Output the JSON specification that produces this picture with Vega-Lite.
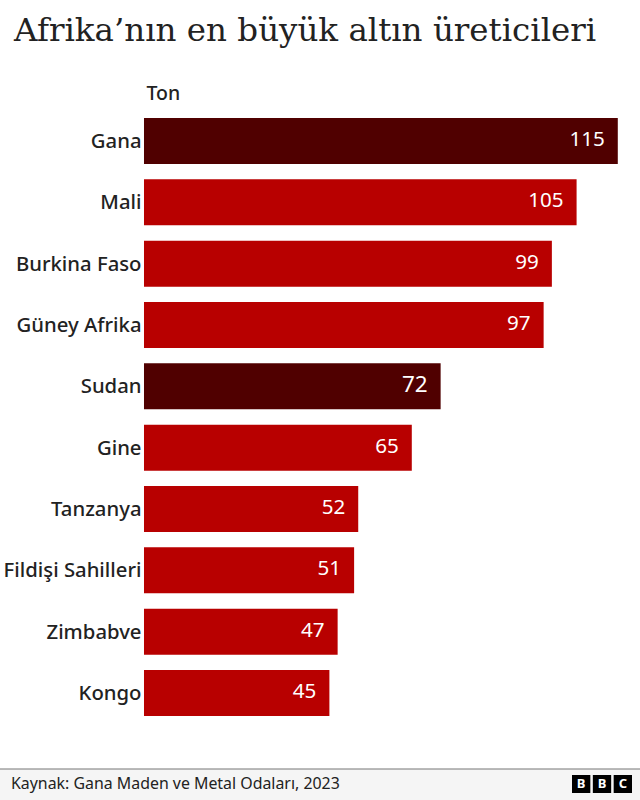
{
"$schema":"https://vega.github.io/schema/vega-lite/v6.json",
"width":640,"height":800,"padding":0,"autosize":"none","background":"white",
"config":{"view":{"stroke":null}},
"title":{"text":"Afrika’nın en büyük altın üreticileri","anchor":"start","frame":"group","dx":14,"dy":73,"offset":0,"baseline":"alphabetic","font":"DejaVu Serif","fontSize":32.5,"fontWeight":"normal","color":"#222222"},
"layer":[
{"data":{"values":[
{"ulke":"Gana","ton":115,"vurgu":"evet"},
{"ulke":"Mali","ton":105,"vurgu":"hayir"},
{"ulke":"Burkina Faso","ton":99,"vurgu":"hayir"},
{"ulke":"Güney Afrika","ton":97,"vurgu":"hayir"},
{"ulke":"Sudan","ton":72,"vurgu":"evet"},
{"ulke":"Gine","ton":65,"vurgu":"hayir"},
{"ulke":"Tanzanya","ton":52,"vurgu":"hayir"},
{"ulke":"Fildişi Sahilleri","ton":51,"vurgu":"hayir"},
{"ulke":"Zimbabve","ton":47,"vurgu":"hayir"},
{"ulke":"Kongo","ton":45,"vurgu":"hayir"}]},
"encoding":{
"y":{"field":"ulke","type":"nominal","sort":null,"scale":{"range":[118,716],"paddingInner":0.25,"paddingOuter":0},
"axis":{"title":null,"orient":"left","offset":-141,"domain":false,"ticks":false,"labelPadding":0,"labelOffset":1,"labelFont":"Noto Sans","labelFontSize":20.3,"labelFontWeight":500,"labelColor":"#222222","labelLimit":200}},
"x":{"field":"ton","type":"quantitative","scale":{"domain":[-34.95,120.39],"range":[0,640],"nice":false,"zero":false},
"axis":{"orient":"top","title":"Ton","domain":false,"ticks":false,"labels":false,"grid":false,"titleX":146,"titleY":93,"titleAlign":"left","titleBaseline":"middle","titleFont":"Noto Sans","titleFontSize":19.5,"titleFontWeight":500,"titleColor":"#222222"}}
},
"layer":[
{"mark":{"type":"bar"},"encoding":{"color":{"field":"vurgu","type":"nominal","scale":{"domain":["evet","hayir"],"range":["#500000","#b80000"]},"legend":null}}},
{"mark":{"type":"text","align":"right","baseline":"middle","dx":-13,"dy":-1,"font":"Noto Sans","fontWeight":400,"color":"white"},"encoding":{"text":{"field":"ton","type":"quantitative"},"size":{"condition":{"test":"datum.ton === 72","value":22.5},"value":20.6}}}
]},
{"data":{"values":[{"kaynak":"Kaynak: Gana Maden ve Metal Odaları, 2023"}]},
"layer":[
{"mark":{"type":"rect","color":"#f5f5f5"},"encoding":{"x":{"value":0},"x2":{"value":640},"y":{"value":769},"y2":{"value":800}}},
{"mark":{"type":"rule","color":"#777777","strokeWidth":1.2},"encoding":{"x":{"value":0},"x2":{"value":640},"y":{"value":769}}},
{"mark":{"type":"text","align":"left","baseline":"middle","font":"Noto Sans","fontSize":15.9,"color":"#222222"},"encoding":{"text":{"field":"kaynak"},"x":{"value":11},"y":{"value":784}}}
]},
{"data":{"values":[{"sira":"1","harf":"B"},{"sira":"2","harf":"B"},{"sira":"3","harf":"C"}]},
"encoding":{"x":{"field":"sira","type":"nominal","scale":{"range":[572,632],"paddingInner":0.12,"paddingOuter":0},"axis":null}},
"layer":[
{"mark":{"type":"bar","color":"#000000"},"encoding":{"y":{"value":775},"y2":{"value":793}}},
{"mark":{"type":"text","font":"Noto Sans","fontSize":13,"fontWeight":700,"color":"white","baseline":"middle"},"encoding":{"text":{"field":"harf"},"y":{"value":784}}}
]}
],
"resolve":{"scale":{"x":"independent","y":"independent","color":"independent"}}
}
